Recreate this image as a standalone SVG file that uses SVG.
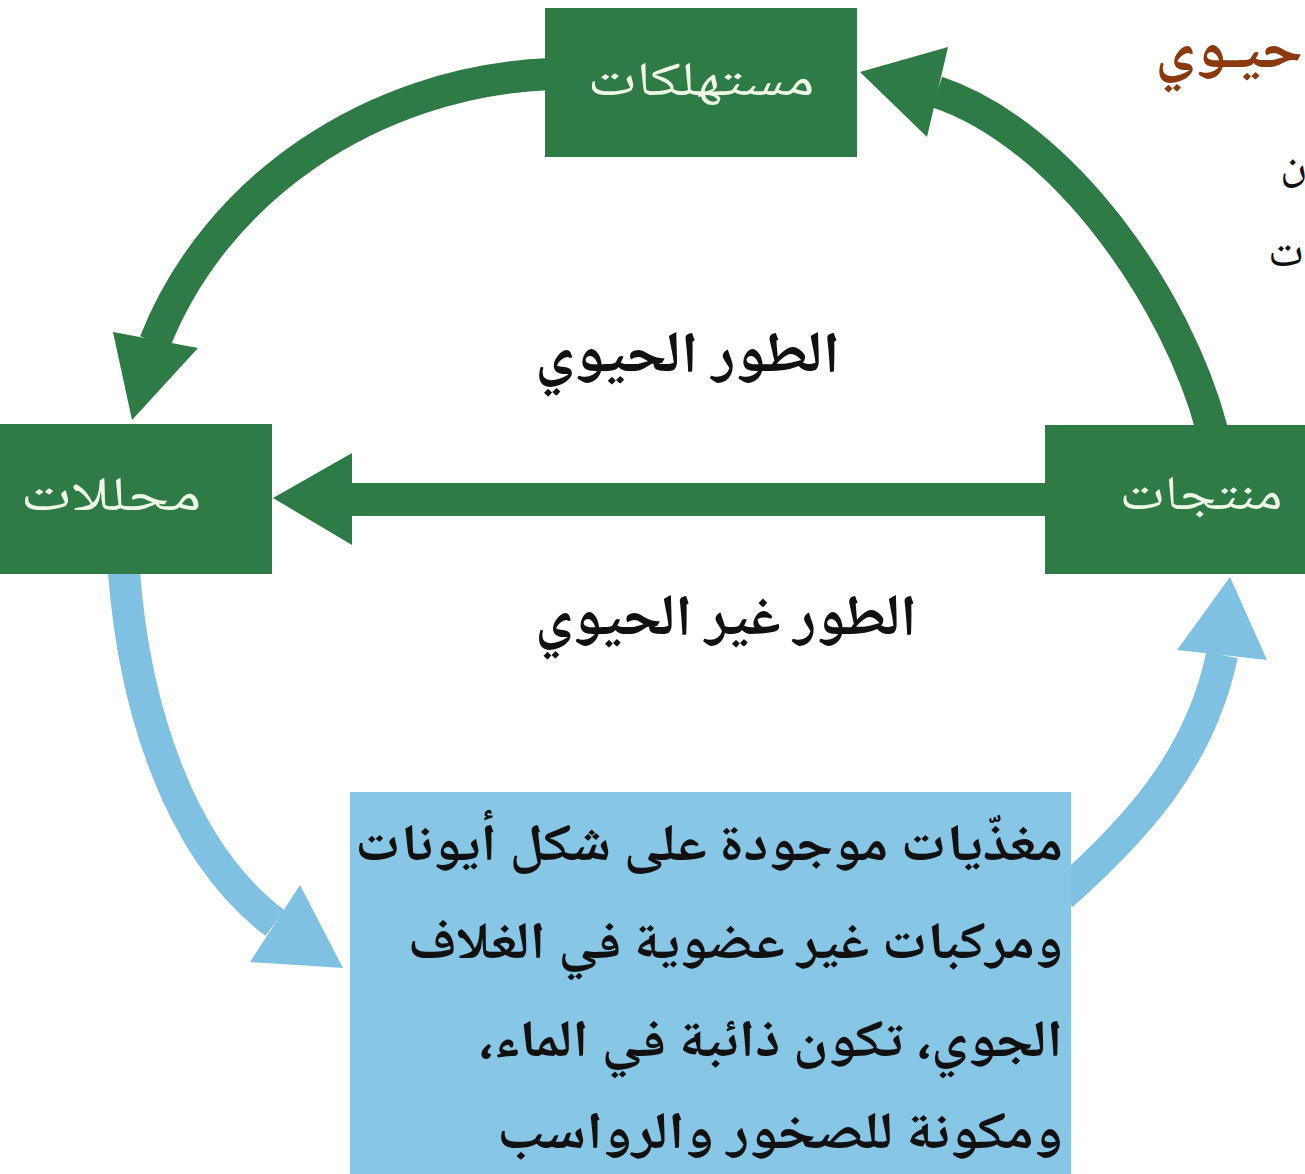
<svg xmlns="http://www.w3.org/2000/svg" width="1305" height="1174" viewBox="0 0 1305 1174">
<style>
  .gbox { fill: #2f7b45; }
  .bbox { fill: #88c6e6; }
  .gline { fill: none; stroke: #2f7b45; stroke-width: 32; }
  .bline { fill: none; stroke: #80c0e3; stroke-width: 32; }
  .ghead { fill: #2f7b45; }
  .bhead { fill: #80c0e3; }
  text { font-family: "Noto Naskh Arabic", "Noto Sans Arabic", "DejaVu Sans", sans-serif; }
  .lbl { fill: #eef6e6; font-size: 48px; text-anchor: middle; }
  .phase { fill: #111; font-size: 58px; font-weight: bold; text-anchor: middle; }
  .body { fill: #111; font-size: 52px; font-weight: bold; text-anchor: middle; }
  .frag { fill: #111; font-size: 46px; text-anchor: start; }
  .title { fill: #8b3a10; font-size: 58px; font-weight: bold; text-anchor: start; }
</style>
<rect width="1305" height="1174" fill="#ffffff"/>

<g id="connectors">
  <path class="gline" d="M 550 74 C 370 82 215 190 155 342"/>
  <polygon class="ghead" points="113,332 198,348 132,420"/>
  <path class="gline" d="M 1212 430 C 1178 300 1065 135 937 92"/>
  <polygon class="ghead" points="948,47 927,137 860,72"/>
  <path class="gline" d="M 1048 499.5 L 350 499.5" style="stroke-width:33"/>
  <polygon class="ghead" points="273,498 352,453 352,545"/>
  <path class="bline" d="M 124 572 C 134 705 178 850 275 923"/>
  <polygon class="bhead" points="300,885 250,962 343,968"/>
  <path class="bline" d="M 1062 895 C 1135 830 1200 760 1222 655"/>
  <polygon class="bhead" points="1177,650 1267,660 1230,577"/>
</g>

<g id="node-consumers">
  <rect class="gbox" x="545" y="8" width="312" height="149"/>
  <text class="lbl" x="701" y="95" direction="rtl" textLength="227" lengthAdjust="spacingAndGlyphs">مستهلكات</text>
</g>

<g id="node-decomposers">
  <rect class="gbox" x="0" y="424" width="272" height="150"/>
  <text class="lbl" x="111" y="510" direction="rtl" textLength="181" lengthAdjust="spacingAndGlyphs">محللات</text>
</g>

<g id="node-producers">
  <rect class="gbox" x="1045" y="425" width="260" height="149"/>
  <text class="lbl" x="1201" y="509" direction="rtl" textLength="163" lengthAdjust="spacingAndGlyphs">منتجات</text>
</g>

<g id="node-nutrients">
  <rect class="bbox" x="350" y="792" width="721" height="382"/>
  <text class="body" x="709" y="860" direction="rtl" textLength="708" lengthAdjust="spacingAndGlyphs">مغذّيات موجودة على شكل أيونات</text>
  <text class="body" x="735.5" y="958" direction="rtl" textLength="655" lengthAdjust="spacingAndGlyphs">ومركبات غير عضوية في الغلاف</text>
  <text class="body" x="770.5" y="1056" direction="rtl" textLength="585" lengthAdjust="spacingAndGlyphs">الجوي، تكون ذائبة في الماء،</text>
  <text class="body" x="780" y="1148" direction="rtl" textLength="566" lengthAdjust="spacingAndGlyphs">ومكونة للصخور والرواسب</text>
</g>

<g id="labels">
  <text class="phase" x="687.5" y="372" direction="rtl" textLength="305" lengthAdjust="spacingAndGlyphs">الطور الحيوي</text>
  <text class="phase" x="726" y="635" direction="rtl" textLength="382" lengthAdjust="spacingAndGlyphs">الطور غير الحيوي</text>
</g>

<g id="page-fragments">
  <text class="title" x="1155" y="68" textLength="148" lengthAdjust="spacingAndGlyphs">حيـوي</text>
  <text class="frag" x="1280" y="176">ن</text>
  <text class="frag" x="1268" y="266">ت</text>
</g>
</svg>
